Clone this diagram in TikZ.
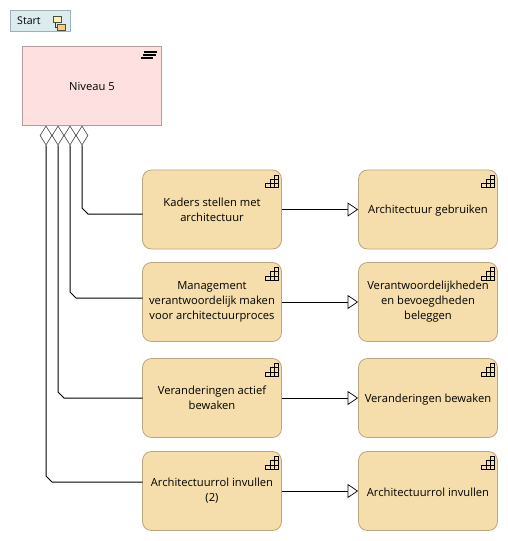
\documentclass[tikz,border=0pt]{standalone}
\usepackage{fontspec}
\setmainfont{Open Sans}
\usetikzlibrary{shapes.geometric,arrows.meta}
\definecolor{boxfill}{HTML}{F5DEAB}
\definecolor{boxline}{HTML}{B9A77F}
\definecolor{pinkfill}{HTML}{FFE0E0}
\definecolor{pinkline}{HTML}{B39D9D}
\definecolor{startfill}{HTML}{DCEBEE}
\definecolor{startline}{HTML}{9DB3B3}
\definecolor{iconyellow}{HTML}{FFF2A8}
\definecolor{iconorange}{HTML}{FFCC66}
\tikzset{
  x=1pt,y=-1pt,
  capbase/.style={draw=boxline,fill=boxfill,rounded corners=9pt,line width=.8pt,minimum width=139pt,minimum height=79pt,align=center,inner sep=0pt,font=\fontsize{11.2}{15}\selectfont,text=black},
  capbox/.style={capbase,execute at begin node={\leavevmode\rule{0pt}{18pt}}},
  capone/.style={capbase,execute at begin node={\leavevmode\rule{0pt}{11pt}}},
  lvl/.style={draw=pinkline,fill=pinkfill,line width=.8pt,minimum width=139pt,minimum height=79pt,inner sep=0pt,font=\fontsize{11.2}{15}\selectfont},
  strt/.style={draw=startline,fill=startfill,line width=.8pt,minimum width=60pt,minimum height=21pt,inner sep=0pt},
  dia/.style={draw=black!75,fill=white,diamond,aspect=.63,minimum width=12pt,minimum height=19pt,inner sep=0pt,line width=.6pt},
  conn/.style={draw=black,line width=1pt},
  real/.style={conn,-{Triangle[open,fill=white,length=10.5pt,width=14pt,line width=.7pt]}},
}
\newcommand{\capicon}[1]{%
  \begin{scope}[shift={(#1)},line width=.55pt,black]
    \draw (-16.3,18) -- (-16.3,13.7) -- (-12,13.7) -- (-12,9.4) -- (-7.7,9.4) -- (-7.7,5.5) -- (-3.5,5.5) -- (-3.5,18) -- cycle;
    \draw (-16.3,13.7) -- (-3.5,13.7) (-12,9.4) -- (-3.5,9.4) (-12,13.7) -- (-12,18) (-7.7,9.4) -- (-7.7,18);
  \end{scope}}
\begin{document}
\begin{tikzpicture}
\useasboundingbox (0,0) rectangle (508,541);
\node[strt] (start) at (40.5,21) {};
\node[anchor=west,inner sep=0pt,font=\fontsize{10.6}{12}\selectfont] (startlabel) at (17,21) {Start};
\draw[line width=.6pt,black!80] (55,21) -- (55,27) -- (58,27);
\draw[line width=.6pt,black!70,fill=iconyellow] (53,16.5) rectangle (61,22);
\draw[line width=.6pt,black!70,fill=iconorange] (57,24.5) rectangle (65,30);

\node[lvl] (n5) at (92,86) {Niveau 5};
\draw[line width=1.2pt,black] (144,52) -- (157,52) (142.5,55) -- (155.5,55) (141,58) -- (153,58);

\node[capbox] (a1) at (212,209.5) {Kaders stellen met\\architectuur};
\node[capone] (a2) at (428,209.5) {Architectuur gebruiken};
\node[capbox] (b1) at (212,302) {Management\\verantwoordelijk maken\\voor architectuurproces};
\node[capbox] (b2) at (428,302) {Verantwoordelijkheden\\en bevoegdheden\\beleggen};
\node[capbox] (c1) at (212,398) {Veranderingen actief\\bewaken};
\node[capone] (c2) at (428,398) {Veranderingen bewaken};
\node[capbox] (d1) at (212,491) {Architectuurrol invullen\\(2)};
\node[capone] (d2) at (428,491) {Architectuurrol invullen};
\foreach \b in {a1,a2,b1,b2,c1,c2,d1,d2}{\capicon{\b.north east}}

\node[dia] (q4) at (46,135.5) {};
\node[dia] (q3) at (58,135.5) {};
\node[dia] (q2) at (70,135.5) {};
\node[dia] (q1) at (82,135.5) {};

\coordinate (e1) at (142.5,214);
\coordinate (e2) at (142.5,298);
\coordinate (e3) at (142.5,398);
\coordinate (e4) at (142.5,482);
\draw[conn] (q1.south) -- (82,208) -- (88,214) -- (e1);
\draw[conn] (q2.south) -- (70,292) -- (76,298) -- (e2);
\draw[conn] (q3.south) -- (58,392) -- (64,398) -- (e3);
\draw[conn] (q4.south) -- (46,476) -- (52,482) -- (e4);
\draw[real] (a1.east) -- (a2.west);
\draw[real] (b1.east) -- (b2.west);
\draw[real] (c1.east) -- (c2.west);
\draw[real] (d1.east) -- (d2.west);
\end{tikzpicture}
\end{document}
